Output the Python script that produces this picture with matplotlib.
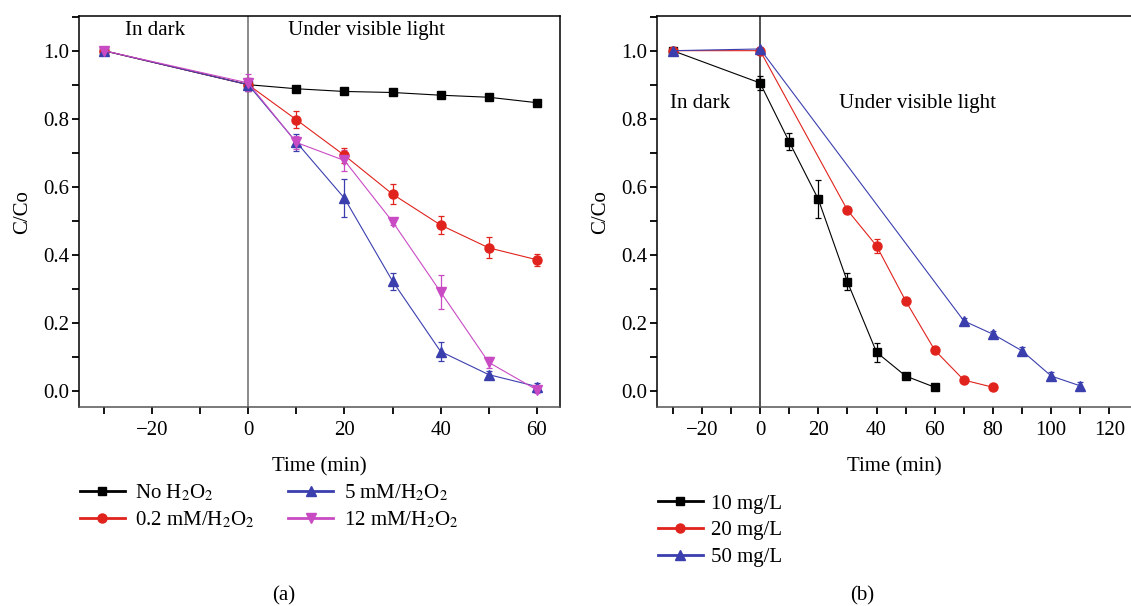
import matplotlib
matplotlib.use("Agg")
import matplotlib.pyplot as plt
from matplotlib.ticker import MultipleLocator
from matplotlib.lines import Line2D

plt.rcParams['font.family'] = ['Liberation Serif', 'DejaVu Serif']
plt.rcParams['mathtext.fontset'] = 'stix'
FS = 15

# ---- Panel (a) data ----
time_a = [-30, 0, 10, 20, 30, 40, 50, 60]
no_h2o2 = [1.0, 0.900, 0.888, 0.880, 0.877, 0.869, 0.863, 0.847]
no_h2o2_err = [0.0, 0.012, 0.008, 0.006, 0.006, 0.007, 0.006, 0.006]
h02 = [1.0, 0.900, 0.797, 0.692, 0.578, 0.487, 0.420, 0.385]
h02_err = [0.0, 0.020, 0.025, 0.022, 0.030, 0.027, 0.031, 0.018]
h5 = [1.0, 0.900, 0.731, 0.566, 0.322, 0.115, 0.047, 0.012]
h5_err = [0.0, 0.020, 0.025, 0.056, 0.025, 0.028, 0.012, 0.010]
h12 = [1.0, 0.905, 0.730, 0.677, 0.497, 0.290, 0.083, 0.002]
h12_err = [0.0, 0.025, 0.020, 0.030, 0.010, 0.050, 0.015, 0.010]
labels_a = [r'No H$_2$O$_2$', r'0.2 mM/H$_2$O$_2$', r'5 mM/H$_2$O$_2$', r'12 mM/H$_2$O$_2$']

# ---- Panel (b) data ----
time_10 = [-30, 0, 10, 20, 30, 40, 50, 60]
c10 = [1.0, 0.905, 0.732, 0.563, 0.320, 0.113, 0.043, 0.010]
c10_err = [0.0, 0.020, 0.025, 0.056, 0.025, 0.028, 0.010, 0.005]
time_20 = [-30, 0, 30, 40, 50, 60, 70, 80]
c20 = [1.0, 1.0, 0.531, 0.426, 0.264, 0.119, 0.031, 0.010]
c20_err = [0.0, 0.005, 0.008, 0.020, 0.008, 0.008, 0.006, 0.005]
time_50 = [-30, 0, 70, 80, 90, 100, 110]
c50 = [1.0, 1.005, 0.205, 0.166, 0.117, 0.043, 0.014]
c50_err = [0.0, 0.005, 0.010, 0.010, 0.012, 0.012, 0.010]
labels_b = ['10 mg/L', '20 mg/L', '50 mg/L']

BLACK = '#000000'
RED = '#e0231c'
BLUE = '#3b3fae'
MAG = '#c94bc4'

fig = plt.figure(figsize=(11.31, 6.06), dpi=100)
ax1 = fig.add_axes([79.3/1131, 1-407.3/606, (560-79.3)/1131, (407.3-16)/606])
ax2 = fig.add_axes([657.3/1131, 1-407.3/606, (1131-657.3)/1131, (407.3-16)/606])

def style(ax, xlim, xmaj, vcol):
    ax.set_xlim(*xlim)
    ax.set_ylim(-0.049, 1.102)
    ax.xaxis.set_major_locator(MultipleLocator(xmaj))
    ax.xaxis.set_minor_locator(MultipleLocator(10))
    ax.yaxis.set_major_locator(MultipleLocator(0.2))
    ax.yaxis.set_minor_locator(MultipleLocator(0.1))
    ax.yaxis.set_major_formatter(matplotlib.ticker.FormatStrFormatter('%.1f'))
    ax.tick_params(axis='both', which='both', direction='out', width=1.3, labelsize=FS)
    ax.tick_params(axis='y', which='both', length=5, pad=2)
    ax.tick_params(axis='x', which='both', length=5, pad=5)
    for s in ax.spines.values():
        s.set_linewidth(1.1)
    ax.spines['bottom'].set_color('#555555')
    ax.set_xlabel('Time (min)', fontsize=FS, labelpad=12)
    ax.set_ylabel('C/Co', fontsize=FS, labelpad=8)
    ax.axvline(0, color=vcol, lw=1.2, zorder=1)

def series(ax, x, y, e, color, marker, ms=6.5):
    ax.errorbar(x, y, yerr=e, color=color, marker=marker, ms=ms, lw=0.8,
                elinewidth=0.9, capsize=2.5, capthick=0.9, zorder=3)

def handle(color, marker, ms=6.5):
    return Line2D([], [], color=color, marker=marker, ms=ms, lw=2.0)

style(ax1, (-35.1, 64.8), 20, '#777777')
series(ax1, time_a, no_h2o2, no_h2o2_err, BLACK, 's', 6)
series(ax1, time_a, h02, h02_err, RED, 'o')
series(ax1, time_a, h5, h5_err, BLUE, '^')
series(ax1, time_a, h12, h12_err, MAG, 'v')
ax1.text(-19.4, 1.058, 'In dark', fontsize=FS, ha='center', va='center')
ax1.text(24.5, 1.058, 'Under visible light', fontsize=FS, ha='center', va='center')

style(ax2, (-35.3, 127.4), 20, '#333333')
ax2.spines['right'].set_visible(False)
series(ax2, time_10, c10, c10_err, BLACK, 's', 6)
series(ax2, time_20, c20, c20_err, RED, 'o')
series(ax2, time_50, c50, c50_err, BLUE, '^')
ax2.text(-20.5, 0.845, 'In dark', fontsize=FS, ha='center', va='center')
ax2.text(54, 0.845, 'Under visible light', fontsize=FS, ha='center', va='center')

ha = [handle(BLACK, 's', 6), handle(RED, 'o'), handle(BLUE, '^'), handle(MAG, 'v')]
fig.legend(ha, labels_a, ncol=2,
           loc='upper left', bbox_to_anchor=(80/1131, 1-483/606), frameon=False,
           fontsize=FS, handlelength=2.15, handletextpad=0.5, columnspacing=1.6,
           labelspacing=0.3, borderaxespad=0, borderpad=0)
hb = [handle(BLACK, 's', 6), handle(RED, 'o'), handle(BLUE, '^')]
fig.legend(hb, labels_b, loc='upper left', bbox_to_anchor=(658/1131, 1-494/606),
           frameon=False, fontsize=FS, handlelength=2.15, handletextpad=0.4,
           labelspacing=0.35, borderaxespad=0, borderpad=0)

fig.text(284/1131, 1-596/606, '(a)', fontsize=FS, ha='center', va='center')
fig.text(862/1131, 1-596/606, '(b)', fontsize=FS, ha='center', va='center')

fig.savefig('out.png', dpi=100)
